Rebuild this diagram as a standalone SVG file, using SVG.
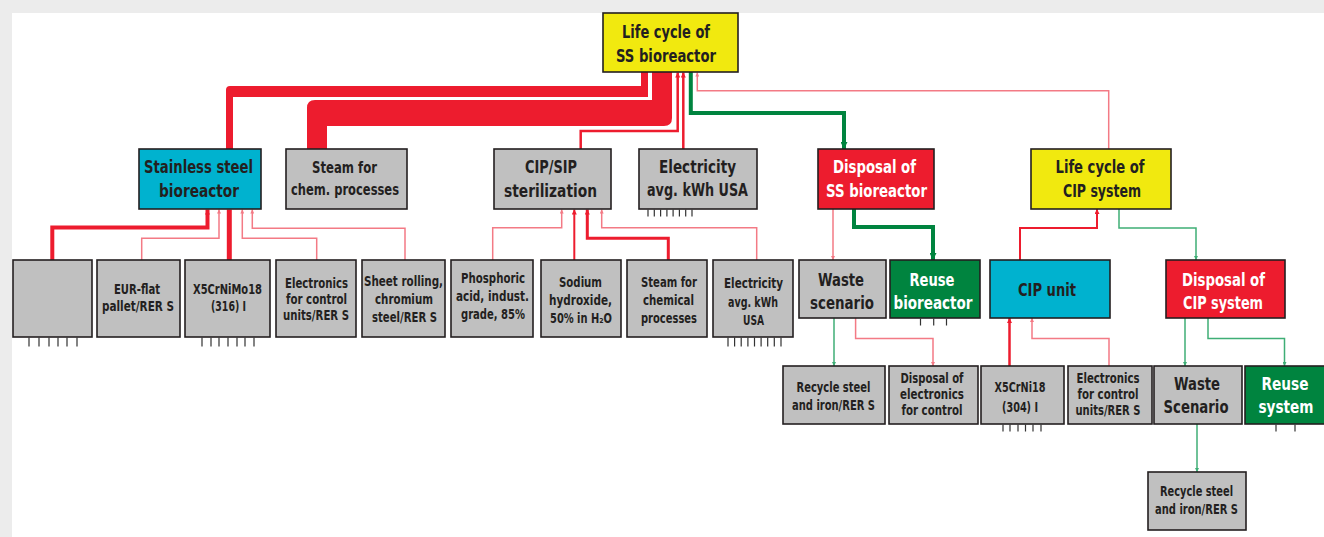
<svg xmlns="http://www.w3.org/2000/svg" width="1324" height="537" viewBox="0 0 1324 537">
<style>
.bx{stroke:#231f20;stroke-width:1.6}
.gray{fill:#c0c0c0}.yel{fill:#f1e90f}.cyan{fill:#00b2cf}.red{fill:#ed1c2e}.grn{fill:#00843f}
text{font-family:'DejaVu Sans Condensed','DejaVu Sans',sans-serif;font-weight:bold;fill:#231f20;text-anchor:middle}
text.w{fill:#ffffff}
.L{font-size:17.5px}.M{font-size:15.5px}.S{font-size:13.5px}
.c{fill:none}
.pk{stroke:#f37a85;stroke-width:1.5}
.rd{stroke:#ed1c2e}
.gl{stroke:#3fae76;stroke-width:1.5}
.gd{stroke:#00843f;stroke-width:4}
.tk{stroke:#333333;stroke-width:1.2}
</style>
<defs>
<marker id="apk" viewBox="0 0 10 10" refX="10" refY="5" markerUnits="userSpaceOnUse" markerWidth="4" markerHeight="4" orient="auto"><path d="M0,0L10,5L0,10z" fill="#f37a85"/></marker>
<marker id="ard" viewBox="0 0 10 10" refX="10" refY="5" markerUnits="userSpaceOnUse" markerWidth="5" markerHeight="5" orient="auto"><path d="M0,0L10,5L0,10z" fill="#ed1c2e"/></marker>
<marker id="agl" viewBox="0 0 10 10" refX="10" refY="5" markerUnits="userSpaceOnUse" markerWidth="4" markerHeight="4" orient="auto"><path d="M0,0L10,5L0,10z" fill="#3fae76"/></marker>
<marker id="agd" viewBox="0 0 10 10" refX="10" refY="5" markerUnits="userSpaceOnUse" markerWidth="7" markerHeight="7" orient="auto"><path d="M0,0L10,5L0,10z" fill="#00843f"/></marker>
</defs>
<rect x="0" y="0" width="1324" height="537" fill="#ececec"/>
<rect x="12" y="13" width="1312" height="524" fill="#ffffff"/>

<g id="connectors">
  <path d="M226,149V90Q226,86 230,86H641V72H648V97H233V149Z" fill="#ed1c2e"/>
  <path d="M307,149V108Q307,100 315,100H652V72H672V118Q672,126 664,126H327V149Z" fill="#ed1c2e"/>
  <path class="c rd" stroke-width="2.5" d="M580.7,149V131H677.7V72.5" marker-end="url(#ard)"/>
  <path class="c rd" stroke-width="2.5" d="M683.3,149V72.5" marker-end="url(#ard)"/>
  <path class="c pk" d="M1108.7,149V90.7H697.3V72.5" marker-end="url(#apk)"/>
  <path class="c gd" stroke-width="3.5" d="M690.8,72V113H844V149" marker-end="url(#agd)"/>
  <path class="c rd" stroke-width="4" d="M52.3,260V227.5H207.5V209.5" marker-end="url(#ard)"/>
  <path class="c pk" d="M141.7,260V238.3H219V209.5" marker-end="url(#apk)"/>
  <path class="c rd" stroke-width="5" d="M229.3,260V209.5"/>
  <path class="c pk" d="M316.7,260V238.3H242.3V209.5" marker-end="url(#apk)"/>
  <path class="c pk" d="M405,260V228.3H252.3V209.5" marker-end="url(#apk)"/>
  <path class="c pk" d="M492.7,260V227.7H561.7V209.5" marker-end="url(#apk)"/>
  <path class="c rd" stroke-width="2" d="M574.3,260V209.5" marker-end="url(#ard)"/>
  <path class="c rd" stroke-width="3" d="M668.3,260V238.3H587.3V209.5" marker-end="url(#ard)"/>
  <path class="c pk" d="M756.7,260V227.7H601.7V209.5" marker-end="url(#apk)"/>
  <path class="c pk" d="M833,209V260" marker-end="url(#apk)"/>
  <path class="c gd" d="M854,209V227H933V260" marker-end="url(#agd)"/>
  <path class="c gl" d="M834,318V366" marker-end="url(#agl)"/>
  <path class="c pk" d="M855.6,318V338.5H933V366" marker-end="url(#apk)"/>
  <path class="c rd" stroke-width="2.5" d="M1009.5,366V318" marker-end="url(#ard)"/>
  <path class="c pk" d="M1109,366V338.5H1032V318" marker-end="url(#apk)"/>
  <path class="c rd" stroke-width="2" d="M1020,260V228H1097V209" marker-end="url(#ard)"/>
  <path class="c gl" d="M1119,209V228H1196V260" marker-end="url(#agl)"/>
  <path class="c gl" d="M1185,318V366" marker-end="url(#agl)"/>
  <path class="c gl" d="M1208,318V338.5H1284.5V366" marker-end="url(#agl)"/>
  <path class="c gl" d="M1197,424V472" marker-end="url(#agl)"/>
</g>

<g id="n-top">
  <rect class="bx yel" x="603" y="13" width="135" height="59"/>
  <text class="L" x="666" y="37.5" textLength="88" lengthAdjust="spacingAndGlyphs">Life cycle of</text>
  <text class="L" x="666" y="61.5" textLength="100" lengthAdjust="spacingAndGlyphs">SS bioreactor</text>
</g>

<g id="n-ssbio">
  <rect class="bx cyan" x="139" y="149" width="122" height="60"/>
  <text class="L" x="198.5" y="173" textLength="109" lengthAdjust="spacingAndGlyphs">Stainless steel</text>
  <text class="L" x="199" y="197" textLength="80" lengthAdjust="spacingAndGlyphs">bioreactor</text>
</g>
<g id="n-steam1">
  <rect class="bx gray" x="286" y="149" width="121" height="60"/>
  <text class="M" x="344.5" y="173" textLength="65" lengthAdjust="spacingAndGlyphs">Steam for</text>
  <text class="M" x="345" y="194.5" textLength="108" lengthAdjust="spacingAndGlyphs">chem. processes</text>
</g>
<g id="n-cipsip">
  <rect class="bx gray" x="494" y="149" width="117" height="60"/>
  <text class="L" x="551" y="173" textLength="52" lengthAdjust="spacingAndGlyphs">CIP/SIP</text>
  <text class="L" x="550.5" y="197" textLength="93" lengthAdjust="spacingAndGlyphs">sterilization</text>
</g>
<g id="n-elec1">
  <rect class="bx gray" x="639" y="149" width="118" height="60"/>
  <text class="L" x="697.5" y="173" textLength="77" lengthAdjust="spacingAndGlyphs">Electricity</text>
  <text class="L" x="697.5" y="196" textLength="101" lengthAdjust="spacingAndGlyphs">avg. kWh USA</text>
  <path class="tk" d="M648,209.5v7M654.3,209.5v7M660.6,209.5v7M666.9,209.5v7M673.1,209.5v7M679.4,209.5v7M685.7,209.5v7M692,209.5v7"/>
</g>
<g id="n-dispss">
  <rect class="bx red" x="818" y="149" width="116" height="60"/>
  <text class="L w" x="874.5" y="173" textLength="83" lengthAdjust="spacingAndGlyphs">Disposal of</text>
  <text class="L w" x="876.5" y="197" textLength="101" lengthAdjust="spacingAndGlyphs">SS bioreactor</text>
</g>
<g id="n-lccip">
  <rect class="bx yel" x="1031" y="149" width="140" height="60"/>
  <text class="L" x="1100" y="173" textLength="89" lengthAdjust="spacingAndGlyphs">Life cycle of</text>
  <text class="L" x="1102" y="197" textLength="78" lengthAdjust="spacingAndGlyphs">CIP system</text>
</g>

<g id="n-blank">
  <rect class="bx gray" x="13" y="260" width="79" height="77"/>
  <path class="tk" d="M29,337.5v9M39,337.5v9M49,337.5v9M58,337.5v9M67,337.5v9M77,337.5v9"/>
</g>
<g id="n-eur">
  <rect class="bx gray" x="97" y="260" width="83" height="77"/>
  <text class="S" x="137" y="294" textLength="46" lengthAdjust="spacingAndGlyphs">EUR-flat</text>
  <text class="S" x="138" y="311" textLength="72" lengthAdjust="spacingAndGlyphs">pallet/RER S</text>
</g>
<g id="n-x5crnimo">
  <rect class="bx gray" x="185" y="260" width="85" height="77"/>
  <text class="S" x="227.5" y="293.5" textLength="69" lengthAdjust="spacingAndGlyphs">X5CrNiMo18</text>
  <text class="S" x="228.5" y="311" textLength="35" lengthAdjust="spacingAndGlyphs">(316) I</text>
  <path class="tk" d="M202,337.5v9M211,337.5v9M219,337.5v9M228,337.5v9M237,337.5v9M245,337.5v9M254,337.5v9"/>
</g>
<g id="n-elctrl1">
  <rect class="bx gray" x="276" y="260" width="80" height="77"/>
  <text class="S" x="316.5" y="287.5" textLength="63" lengthAdjust="spacingAndGlyphs">Electronics</text>
  <text class="S" x="316.5" y="304" textLength="61" lengthAdjust="spacingAndGlyphs">for control</text>
  <text class="S" x="316" y="320" textLength="66" lengthAdjust="spacingAndGlyphs">units/RER S</text>
</g>
<g id="n-sheet">
  <rect class="bx gray" x="362" y="260" width="83" height="77"/>
  <text class="S" x="403.5" y="285.5" textLength="79" lengthAdjust="spacingAndGlyphs">Sheet rolling,</text>
  <text class="S" x="404" y="303.5" textLength="58" lengthAdjust="spacingAndGlyphs">chromium</text>
  <text class="S" x="404.5" y="321.5" textLength="65" lengthAdjust="spacingAndGlyphs">steel/RER S</text>
</g>
<g id="n-phos">
  <rect class="bx gray" x="451" y="260" width="82" height="77"/>
  <text class="S" x="493" y="282.5" textLength="64" lengthAdjust="spacingAndGlyphs">Phosphoric</text>
  <text class="S" x="492.5" y="300.5" textLength="73" lengthAdjust="spacingAndGlyphs">acid, indust.</text>
  <text class="S" x="493" y="319" textLength="64" lengthAdjust="spacingAndGlyphs">grade, 85%</text>
</g>
<g id="n-naoh">
  <rect class="bx gray" x="541" y="260" width="80" height="77"/>
  <text class="S" x="580.5" y="286.5" textLength="43" lengthAdjust="spacingAndGlyphs">Sodium</text>
  <text class="S" x="580.5" y="305" textLength="63" lengthAdjust="spacingAndGlyphs">hydroxide,</text>
  <text class="S" x="581" y="323" textLength="62" lengthAdjust="spacingAndGlyphs">50% in H₂O</text>
</g>
<g id="n-steam2">
  <rect class="bx gray" x="627" y="260" width="80" height="77"/>
  <text class="S" x="669" y="287" textLength="56" lengthAdjust="spacingAndGlyphs">Steam for</text>
  <text class="S" x="668.5" y="305" textLength="51" lengthAdjust="spacingAndGlyphs">chemical</text>
  <text class="S" x="669" y="322.5" textLength="56" lengthAdjust="spacingAndGlyphs">processes</text>
</g>
<g id="n-elec2">
  <rect class="bx gray" x="713" y="260" width="80" height="77"/>
  <text class="S" x="753.5" y="288" textLength="59" lengthAdjust="spacingAndGlyphs">Electricity</text>
  <text class="S" x="753" y="306.5" textLength="50" lengthAdjust="spacingAndGlyphs">avg. kWh</text>
  <text class="S" x="753.5" y="325" textLength="21" lengthAdjust="spacingAndGlyphs">USA</text>
  <path class="tk" d="M728,337.5v9M734.6,337.5v9M741.2,337.5v9M747.9,337.5v9M754.5,337.5v9M761.1,337.5v9M767.7,337.5v9M774.3,337.5v9M781,337.5v9"/>
</g>

<g id="n-waste1">
  <rect class="bx gray" x="799" y="260" width="87" height="58"/>
  <text class="L" x="841" y="286" textLength="46" lengthAdjust="spacingAndGlyphs">Waste</text>
  <text class="L" x="842" y="309" textLength="64" lengthAdjust="spacingAndGlyphs">scenario</text>
</g>
<g id="n-reusebio">
  <rect class="bx grn" x="890" y="260" width="90" height="58"/>
  <text class="L w" x="932" y="286" textLength="45" lengthAdjust="spacingAndGlyphs">Reuse</text>
  <text class="L w" x="933" y="309" textLength="79" lengthAdjust="spacingAndGlyphs">bioreactor</text>
  <path class="tk" d="M920.5,318.5v7M933.7,318.5v7M946.5,318.5v7"/>
</g>
<g id="n-cipunit">
  <rect class="bx cyan" x="990" y="260" width="120" height="58"/>
  <text class="L" x="1047" y="296" font-size="18.5" textLength="58" lengthAdjust="spacingAndGlyphs">CIP unit</text>
</g>
<g id="n-dispcip">
  <rect class="bx red" x="1166" y="260" width="119" height="58"/>
  <text class="L w" x="1223.5" y="286" textLength="83" lengthAdjust="spacingAndGlyphs">Disposal of</text>
  <text class="L w" x="1223" y="309" textLength="80" lengthAdjust="spacingAndGlyphs">CIP system</text>
</g>

<g id="n-recycle1">
  <rect class="bx gray" x="783" y="366" width="102" height="58"/>
  <text class="S" x="833.5" y="392" textLength="74" lengthAdjust="spacingAndGlyphs">Recycle steel</text>
  <text class="S" x="833.5" y="410" textLength="83" lengthAdjust="spacingAndGlyphs">and iron/RER S</text>
</g>
<g id="n-dispel">
  <rect class="bx gray" x="889" y="366" width="89" height="58"/>
  <text class="S" x="932" y="383" textLength="63" lengthAdjust="spacingAndGlyphs">Disposal of</text>
  <text class="S" x="932" y="398.5" textLength="64" lengthAdjust="spacingAndGlyphs">electronics</text>
  <text class="S" x="932" y="415" textLength="61" lengthAdjust="spacingAndGlyphs">for control</text>
</g>
<g id="n-x5crni">
  <rect class="bx gray" x="981" y="366" width="83" height="58"/>
  <text class="S" x="1020" y="392" textLength="51" lengthAdjust="spacingAndGlyphs">X5CrNi18</text>
  <text class="S" x="1020" y="412" textLength="36" lengthAdjust="spacingAndGlyphs">(304) I</text>
  <path class="tk" d="M1003,424.5v7M1010,424.5v7M1018,424.5v7M1025.5,424.5v7M1033,424.5v7M1041,424.5v7"/>
</g>
<g id="n-elctrl2">
  <rect class="bx gray" x="1068" y="366" width="84" height="58"/>
  <text class="S" x="1108" y="383" textLength="63" lengthAdjust="spacingAndGlyphs">Electronics</text>
  <text class="S" x="1108" y="399" textLength="61" lengthAdjust="spacingAndGlyphs">for control</text>
  <text class="S" x="1108" y="415" textLength="65" lengthAdjust="spacingAndGlyphs">units/RER S</text>
</g>
<g id="n-waste2">
  <rect class="bx gray" x="1154" y="366" width="88" height="58"/>
  <text class="L" x="1197" y="390" textLength="46" lengthAdjust="spacingAndGlyphs">Waste</text>
  <text class="L" x="1196" y="413" textLength="65" lengthAdjust="spacingAndGlyphs">Scenario</text>
</g>
<g id="n-reusesys">
  <rect class="bx grn" x="1245" y="366" width="82" height="58"/>
  <text class="L w" x="1285" y="390" textLength="47" lengthAdjust="spacingAndGlyphs">Reuse</text>
  <text class="L w" x="1286" y="413" textLength="55" lengthAdjust="spacingAndGlyphs">system</text>
  <path class="tk" d="M1276,424.5v7M1295,424.5v7"/>
</g>
<g id="n-recycle2">
  <rect class="bx gray" x="1148" y="472" width="98" height="58"/>
  <text class="S" x="1196.5" y="496" textLength="73" lengthAdjust="spacingAndGlyphs">Recycle steel</text>
  <text class="S" x="1196.5" y="514" textLength="83" lengthAdjust="spacingAndGlyphs">and iron/RER S</text>
</g>
</svg>
